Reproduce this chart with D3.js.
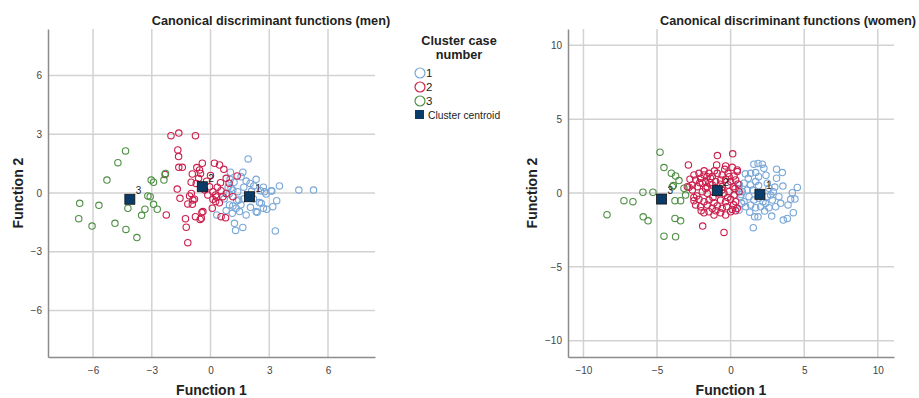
<!DOCTYPE html>
<html lang="en">
<head>
<meta charset="UTF-8">
<title>Canonical discriminant functions</title>
<script src="https://cdn.jsdelivr.net/npm/d3@7"></script>
<style>
  body { margin: 0; background: #fff; }
  svg { font-family: Arial, "Liberation Sans", sans-serif; }
</style>
</head>
<body>
<script>
// ---- data (function 1, function 2) ----
let menTicks = [-6, -3, 0, 3, 6];
let womenTicks = [-10, -5, 0, 5, 10];

let menCluster1 = [[1.92,1.74],[1.02,1.06],[1.65,1.06],[1.56,0.83],[2.33,0.70],[1.82,0.61],[2.02,0.49],[2.21,0.36],
  [2.55,0.12],[2.76,0.07],[3.10,0.12],[3.52,0.36],[4.51,0.15],[5.26,0.15],[2.84,-0.05],[1.05,0.24],[1.14,0.15],
  [0.90,0.30],[1.39,0.07],[1.44,-0.36],[3.38,-0.39],[2.50,-0.49],[3.18,-0.70],[2.70,-0.78],[2.87,-0.83],[2.04,-0.73],
  [2.33,-0.95],[1.82,-1.12],[1.14,-0.66],[0.97,-0.61],[1.31,-0.78],[0.80,-0.90],[1.11,-1.04],[1.22,-1.55],[1.28,-1.91],
  [1.65,-1.76],[3.31,-1.94],[0.32,-1.12],[1.48,-0.95],[1.34,-0.39],[2.59,-0.53],[2.38,-0.99],[3.13,0.10],[1.20,0.55],
  [1.00,0.70],[2.10,0.10],[1.70,0.30],[2.20,-0.30],[1.70,-0.30],[0.70,-0.30],[0.95,-0.05],[1.55,-0.60],[2.70,0.30]];
let menCluster2 = [[-2.02,2.93],[-1.62,3.06],[-0.77,2.93],[-1.67,2.20],[-1.63,1.86],[-1.62,1.31],[-1.44,1.31],[-0.42,1.52],
  [0.20,1.52],[0.46,1.43],[0.68,1.21],[-0.93,0.97],[-0.56,1.18],[-0.51,1.00],[-0.61,0.75],[-0.99,0.55],[-0.73,0.49],
  [0.80,0.75],[1.36,0.87],[0.51,0.53],[-0.05,0.32],[0.12,0.07],[-0.14,-0.10],[0.26,-0.10],[0.54,0.12],[0.80,-0.02],
  [0.63,-0.19],[1.14,-0.19],[0.12,-0.32],[0.09,-0.78],[0.26,-0.44],[-0.98,-0.02],[-0.90,-0.36],[-0.77,-1.21],
  [-0.47,-1.29],[0.54,-1.21],[0.77,-1.26],[-0.39,-0.95],[-1.70,0.20],[-1.56,-0.27],[-2.26,-1.12],[-1.28,-1.31],
  [-1.24,-1.75],[-1.16,-2.54],[-1.07,-0.15],[-0.82,-0.32],[-1.16,-0.56],[-0.93,-0.58],[-0.44,-1.00],[-0.53,-1.35],
  [0.30,-0.20],[0.45,-0.50],[-0.20,0.60],[0.00,0.90],[-0.30,0.15],[0.35,0.30],[0.95,0.50],[-0.70,1.30],[-2.32,0.95]];
let menCluster3 = [[-4.34,2.15],[-4.73,1.55],[-5.29,0.66],[-3.03,0.66],[-2.91,0.55],[-2.38,0.66],[-2.30,1.00],
  [-3.20,-0.15],[-3.08,-0.19],[-2.91,-0.58],[-2.72,-0.83],[-3.35,-0.83],[-3.52,-1.14],[-4.22,-0.78],[-6.68,-0.53],
  [-5.70,-0.63],[-6.73,-1.31],[-6.05,-1.69],[-4.88,-1.55],[-4.32,-1.86],[-3.76,-2.28]];
let menCentroids = [[1.99,-0.19],[-0.42,0.32],[-4.12,-0.32]];

let womenCluster1 = [[1.58,1.95],[1.86,2.00],[2.15,1.95],[2.26,1.67],[1.36,1.33],[1.70,1.38],[1.20,1.00],[3.12,1.61],
  [3.51,1.38],[3.12,1.00],[3.55,0.47],[4.19,0.02],[4.53,0.38],[4.08,-0.43],[4.37,-0.41],[3.90,-0.81],[4.26,-1.33],
  [3.58,-1.83],[3.85,-1.72],[2.79,-1.56],[2.31,-1.22],[1.63,-1.61],[1.86,-1.61],[1.54,-2.35],[0.68,-0.25],[0.91,-0.59],
  [0.57,-1.15],[2.61,0.32],[2.90,0.09],[2.49,-0.25],[2.83,-0.48],[3.06,-0.93],[1.13,0.20],[1.36,0.54],[1.70,0.77],
  [0.91,0.66],[1.25,-0.25],[1.58,-0.48],[1.92,-0.36],[1.36,-0.81],[2.04,-0.93],[2.38,-0.70],[1.02,-0.93],[0.80,0.09],
  [2.49,0.66],[2.72,-0.14],[3.28,-0.25],[0.55,0.30],[0.60,0.55],[0.70,-0.10],[0.75,-0.70],[1.00,1.30],[1.50,0.20],
  [1.90,0.50],[2.20,-0.60],[1.70,-1.00],[2.60,-1.00],[3.00,0.40],[1.30,-1.30],[3.40,-0.70],[2.40,1.20],[1.90,1.10]];
let womenCluster2 = [[-2.87,1.90],[-0.95,1.90],[-0.34,1.83],[0.11,1.74],[0.45,1.56],[-0.90,2.53],[0.14,2.65],
  [-1.90,-2.24],[-0.45,-2.67],[-2.49,1.22],[-2.15,1.33],[-1.81,1.22],[-1.47,1.33],[-1.25,1.11],[-0.91,1.33],
  [-0.57,1.22],[-0.18,1.33],[0.23,1.15],[0.45,1.45],[-2.76,0.93],[-2.38,0.88],[-2.04,1.00],[-1.70,0.77],[-1.36,1.00],
  [-1.02,0.77],[-0.68,0.88],[-0.34,0.93],[0.00,0.77],[0.34,0.88],[-2.94,0.43],[-2.60,0.54],[-2.26,0.43],[-1.92,0.66],
  [-1.59,0.43],[-1.25,0.54],[-0.57,0.43],[-0.18,0.54],[0.18,0.43],[0.50,0.61],[-1.92,0.09],[-1.59,-0.02],[-0.45,-0.02],
  [-0.11,0.09],[0.23,-0.14],[0.57,0.09],[-2.49,-0.52],[-2.15,-0.43],[-1.81,-0.59],[-1.47,-0.48],[-1.13,-0.66],
  [-0.68,-0.48],[-0.34,-0.59],[0.00,-0.43],[0.34,-0.59],[-2.38,-0.81],[-2.04,-0.93],[-1.59,-0.81],[-1.25,-1.04],
  [-0.91,-0.88],[-0.57,-1.04],[-0.27,-0.93],[0.11,-1.11],[0.45,-1.04],[-1.81,-1.34],[-1.47,-1.27],[-1.13,-1.49],
  [-0.68,-1.34],[-0.34,-1.49],[0.00,-1.27],[0.34,-1.20],[-2.83,0.39],[-2.60,0.20],[-2.30,-0.20],[-1.70,0.30],
  [-1.20,-0.30],[-0.90,0.00],[-0.60,0.20],[-0.20,-0.30],[0.30,0.30],[-1.80,1.50],[-1.10,1.50],[-0.40,1.60],
  [-2.00,-1.20],[-1.00,-1.20],[0.20,-0.80],[-0.70,0.60],[-1.40,0.70],[-2.10,0.70],[-0.10,1.10],[-1.60,1.10],[-2.50,-0.30]];
let womenCluster3 = [[-4.80,2.76],[-4.53,1.72],[-4.03,1.34],[-3.74,1.15],[-3.51,0.84],[-3.89,0.50],[-3.17,0.32],
  [-5.96,0.05],[-5.28,0.05],[-7.25,-0.52],[-6.64,-0.59],[-8.40,-1.47],[-5.94,-1.61],[-5.61,-1.88],[-3.78,-0.52],
  [-3.40,-0.52],[-3.78,-1.72],[-3.40,-1.88],[-4.53,-2.92],[-3.74,-2.96],[-3.06,-0.14],[-3.96,0.43]];
let womenCentroids = [[1.99,-0.09],[-0.91,0.16],[-4.69,-0.41]];

let clusterLabels = ['1', '2', '3'];
let colors = ['#79a7d8', '#cc1f4d', '#4f8f45'];
let centroidColor = '#0b3b68';

let width = 919;
let height = 398;

let svg = d3.select('body').append('svg')
  .attr('width', width)
  .attr('height', height);

drawPanel({
  title: 'Canonical discriminant functions (men)',
  titleX: 271,
  xDomain: [-8.3, 8.4], yDomain: [-8.38, 8.38],
  left: 48, right: 375, top: 29, bottom: 357,
  ticks: menTicks,
  yLabelX: 18,
  clusters: [menCluster1, menCluster2, menCluster3],
  centroids: menCentroids
});

drawPanel({
  title: 'Canonical discriminant functions (women)',
  titleX: 788,
  xDomain: [-11.05, 11.1], yDomain: [-11.1, 11.1],
  left: 568, right: 894, top: 29, bottom: 357,
  ticks: womenTicks,
  yLabelX: 532,
  clusters: [womenCluster1, womenCluster2, womenCluster3],
  centroids: womenCentroids
});

drawLegend();

function drawPanel(p) {
  let x = d3.scaleLinear().domain(p.xDomain).range([p.left, p.right]);
  let y = d3.scaleLinear().domain(p.yDomain).range([p.bottom, p.top]);
  let g = svg.append('g');

  // grid
  g.selectAll('.vgrid').data(p.ticks).enter().append('line')
    .attr('x1', d => x(d)).attr('x2', d => x(d))
    .attr('y1', p.top).attr('y2', p.bottom)
    .attr('stroke', '#d2d2d2').attr('stroke-width', 1.5);
  g.selectAll('.hgrid').data(p.ticks).enter().append('line')
    .attr('x1', p.left).attr('x2', p.right)
    .attr('y1', d => y(d)).attr('y2', d => y(d))
    .attr('stroke', '#d2d2d2').attr('stroke-width', 1.5);

  // axes
  let xAxis = d3.axisBottom(x).tickValues(p.ticks).tickSize(0).tickPadding(10);
  let yAxis = d3.axisLeft(y).tickValues(p.ticks).tickSize(0).tickPadding(6);
  let gx = g.append('g').attr('transform', 'translate(0,' + p.bottom + ')').call(xAxis);
  let gy = g.append('g').attr('transform', 'translate(' + p.left + ',0)').call(yAxis);
  [gx, gy].forEach(a => {
    a.select('.domain').attr('stroke', '#8c8c8c').attr('stroke-width', 1.5);
    a.selectAll('text').attr('font-size', 10).attr('fill', '#444')
      .attr('font-family', 'Arial, "Liberation Sans", sans-serif');
  });

  // points
  p.clusters.forEach((pts, i) => {
    g.append('g').selectAll('circle').data(pts).enter().append('circle')
      .attr('cx', d => x(d[0])).attr('cy', d => y(d[1]))
      .attr('r', 3.2)
      .attr('fill', 'none')
      .attr('stroke', colors[i])
      .attr('stroke-width', 1.1);
  });

  // centroids
  g.selectAll('.centroid').data(p.centroids).enter().append('rect')
    .attr('x', d => x(d[0]) - 5).attr('y', d => y(d[1]) - 5)
    .attr('width', 10).attr('height', 10)
    .attr('fill', centroidColor).attr('stroke', '#111').attr('stroke-width', 0.8);
  g.selectAll('.clabel').data(p.centroids).enter().append('text')
    .attr('x', d => x(d[0]) + 6).attr('y', d => y(d[1]) - 5)
    .attr('font-size', 10).attr('fill', '#222')
    .text((d, i) => clusterLabels[i]);

  // titles
  g.append('text')
    .attr('x', p.titleX).attr('y', 25)
    .attr('text-anchor', 'middle')
    .attr('font-size', 12.7).attr('font-weight', 'bold').attr('fill', '#222')
    .text(p.title);
  g.append('text')
    .attr('x', (p.left + p.right) / 2).attr('y', 395)
    .attr('text-anchor', 'middle')
    .attr('font-size', 14).attr('font-weight', 'bold').attr('fill', '#222')
    .text('Function 1');
  g.append('text')
    .attr('transform', 'translate(' + p.yLabelX + ',' + y(0) + ') rotate(-90)')
    .attr('text-anchor', 'middle')
    .attr('dy', '0.35em')
    .attr('font-size', 14).attr('font-weight', 'bold').attr('fill', '#222')
    .text('Function 2');
}

function drawLegend() {
  let lg = svg.append('g');
  lg.append('text').attr('x', 459).attr('y', 45)
    .attr('text-anchor', 'middle').attr('font-size', 12.7).attr('font-weight', 'bold').attr('fill', '#222')
    .text('Cluster case');
  lg.append('text').attr('x', 459).attr('y', 59)
    .attr('text-anchor', 'middle').attr('font-size', 12.7).attr('font-weight', 'bold').attr('fill', '#222')
    .text('number');

  let rows = clusterLabels.map((l, i) => ({ label: l, color: colors[i] }));
  lg.selectAll('.item').data(rows).enter().append('circle')
    .attr('cx', 420).attr('cy', (d, i) => 73 + i * 14)
    .attr('r', 5).attr('fill', 'none')
    .attr('stroke', d => d.color).attr('stroke-width', 1.2);
  lg.selectAll('.itemtext').data(rows).enter().append('text')
    .attr('x', 426).attr('y', (d, i) => 77 + i * 14)
    .attr('font-size', 11.5).attr('fill', '#222')
    .text(d => d.label);
  lg.append('rect').attr('x', 415).attr('y', 110).attr('width', 9).attr('height', 9)
    .attr('fill', centroidColor);
  lg.append('text').attr('x', 428).attr('y', 119)
    .attr('font-size', 10.3).attr('fill', '#222')
    .text('Cluster centroid');
}
</script>
</body>
</html>
